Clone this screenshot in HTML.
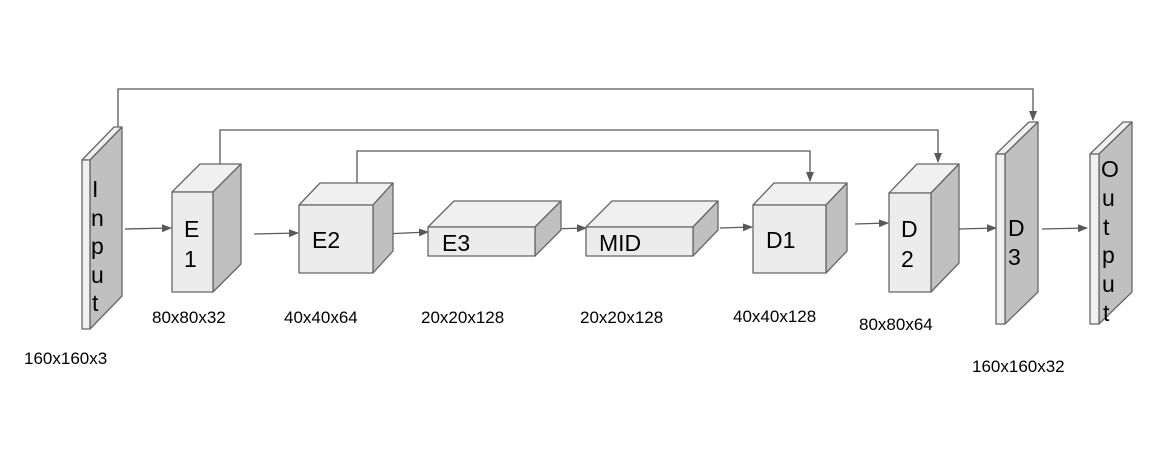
<!DOCTYPE html>
<html><head><style>
html,body{margin:0;padding:0;background:#fff;}
svg text{font-family:"Liberation Sans",Arial,sans-serif;fill:#000;}
</style></head><body>
<svg width="1156" height="466" viewBox="0 0 1156 466" xmlns="http://www.w3.org/2000/svg">
<defs>
<marker id="a" markerWidth="10" markerHeight="8" refX="9" refY="4" orient="auto" markerUnits="userSpaceOnUse">
<path d="M0,0 L10,4 L0,8 Z" fill="#595959"/>
</marker>
</defs>
<g stroke="#595959" stroke-width="1.3" fill="none">
<polyline points="118,127 118,89 1033,89 1033,120" marker-end="url(#a)"/>
<polyline points="220,164 220,130 938,130 938,162" marker-end="url(#a)"/>
<polyline points="357,183 357,151 810,151 810,181" marker-end="url(#a)"/>
<line x1="125" y1="229" x2="171" y2="228" marker-end="url(#a)"/>
<line x1="254" y1="234" x2="298" y2="233" marker-end="url(#a)"/>
<line x1="384" y1="234" x2="428" y2="232" marker-end="url(#a)"/>
<line x1="551" y1="229" x2="586" y2="228" marker-end="url(#a)"/>
<line x1="720" y1="228" x2="752" y2="227" marker-end="url(#a)"/>
<line x1="855" y1="224" x2="888" y2="223" marker-end="url(#a)"/>
<line x1="959" y1="229" x2="996" y2="228" marker-end="url(#a)"/>
<line x1="1042" y1="229" x2="1087" y2="228" marker-end="url(#a)"/>
</g>
<g stroke="#666" stroke-width="1.3" stroke-linejoin="round">
<polygon points="82,160 114,127 122,127 90,160" fill="#f0f0f0"/>
<polygon points="90,160 122,127 122,296 90,329" fill="#c0c0c0"/>
<rect x="82" y="160" width="8" height="169" fill="#f0f0f0"/>
<polygon points="172,192 200,164 241,164 213,192" fill="#f0f0f0"/>
<polygon points="213,192 241,164 241,264 213,292" fill="#c0c0c0"/>
<rect x="172" y="192" width="41" height="100" fill="#ececec"/>
<polygon points="299,205 320,183 393,183 373,205" fill="#f0f0f0"/>
<polygon points="373,205 393,183 393,251 373,273" fill="#c0c0c0"/>
<rect x="299" y="205" width="74" height="68" fill="#ececec"/>
<polygon points="428,227 454,201 561,201 535,227" fill="#f0f0f0"/>
<polygon points="535,227 561,201 561,230 535,256" fill="#c0c0c0"/>
<rect x="428" y="227" width="107" height="29" fill="#ececec"/>
<polygon points="586,227 612,201 718,201 693,227" fill="#f0f0f0"/>
<polygon points="693,227 718,201 718,230 693,256" fill="#c0c0c0"/>
<rect x="586" y="227" width="107" height="29" fill="#ececec"/>
<polygon points="753,205 774,183 847,183 826,205" fill="#f0f0f0"/>
<polygon points="826,205 847,183 847,251 826,273" fill="#c0c0c0"/>
<rect x="753" y="205" width="73" height="68" fill="#ececec"/>
<polygon points="889,193 917,164 959,164 931,193" fill="#f0f0f0"/>
<polygon points="931,193 959,164 959,263 931,292" fill="#c0c0c0"/>
<rect x="889" y="193" width="42" height="99" fill="#ececec"/>
<polygon points="996,154 1029,122 1038,122 1005,154" fill="#f0f0f0"/>
<polygon points="1005,154 1038,122 1038,292 1005,324" fill="#c0c0c0"/>
<rect x="996" y="154" width="9" height="170" fill="#f0f0f0"/>
<polygon points="1090,154 1123,122 1132,122 1099,154" fill="#f0f0f0"/>
<polygon points="1099,154 1132,122 1132,292 1099,324" fill="#c0c0c0"/>
<rect x="1090" y="154" width="9" height="170" fill="#f0f0f0"/>
</g>
<g font-size="23">
<text x="92" y="197">I</text>
<text x="91" y="226">n</text>
<text x="91" y="254">p</text>
<text x="91" y="283">u</text>
<text x="92" y="311">t</text>
<text x="184" y="237">E</text>
<text x="184" y="267">1</text>
<text x="312" y="248">E2</text>
<text x="442" y="251">E3</text>
<text x="599" y="251">MID</text>
<text x="766" y="248">D1</text>
<text x="901" y="237">D</text>
<text x="901" y="267">2</text>
<text x="1008" y="236">D</text>
<text x="1008" y="265">3</text>
<text x="1101" y="177">O</text>
<text x="1102" y="206">u</text>
<text x="1103" y="235">t</text>
<text x="1102" y="263">p</text>
<text x="1102" y="292">u</text>
<text x="1103" y="321">t</text>
</g>
<g font-size="17">
<text x="24" y="364">160x160x3</text>
<text x="152" y="323">80x80x32</text>
<text x="284" y="323">40x40x64</text>
<text x="421" y="323">20x20x128</text>
<text x="580" y="323">20x20x128</text>
<text x="733" y="322">40x40x128</text>
<text x="859" y="330">80x80x64</text>
<text x="972" y="372">160x160x32</text>
</g>
</svg>
</body></html>
